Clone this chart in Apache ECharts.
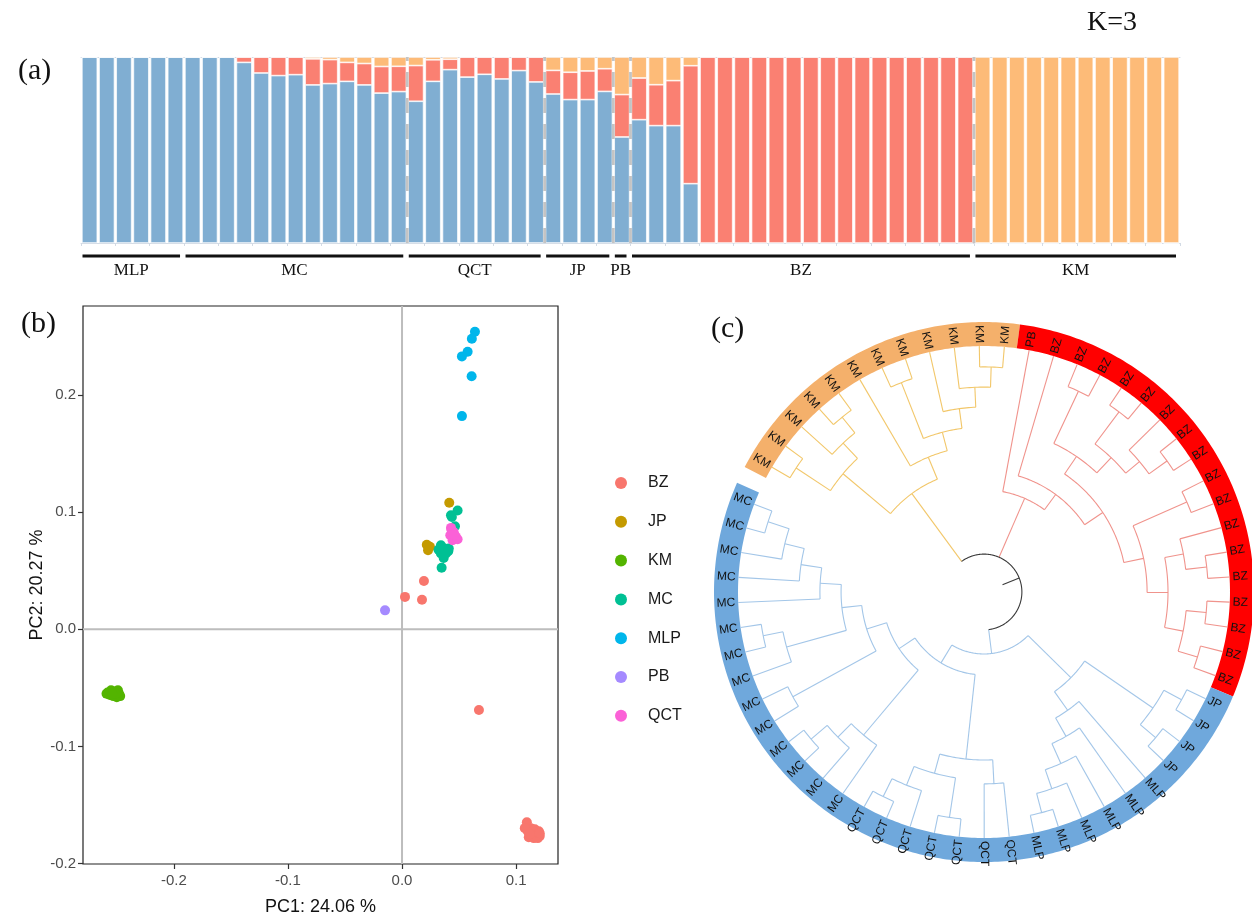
<!DOCTYPE html>
<html>
<head>
<meta charset="utf-8">
<script src="https://cdn.jsdelivr.net/npm/echarts@6.0.0/dist/echarts.min.js"></script>
<style>
html,body{margin:0;padding:0;background:#ffffff;}
#chart{width:1252px;height:921px;}
</style>
</head>
<body>
<div id="chart"></div>
<script>
// ================= DATA =================
// (a) admixture proportions, K=3
const groupNames = ['MLP','MC','QCT','JP','PB','BZ','KM'];
const groupSizes = [6,13,8,4,1,20,12];
const dashedBeforeGroups = ['QCT','JP','PB','BZ','KM'];
const qBlue = [1,1,1,1,1,1,
  1,1,1,0.971,0.914,0.900,0.905,0.850,0.857,0.869,0.850,0.806,0.814,
  0.762,0.869,0.932,0.892,0.907,0.882,0.927,0.866,
  0.801,0.771,0.771,0.815,
  0.570,
  0.663,0.631,0.631,0.319,0,0,0,0,0,0,0,0,0,0,0,0,0,0,0,0,
  0,0,0,0,0,0,0,0,0,0,0,0];
const qRed = [0,0,0,0,0,0,
  0,0,0,0.029,0.086,0.100,0.095,0.140,0.129,0.102,0.115,0.143,0.136,
  0.192,0.116,0.056,0.108,0.093,0.118,0.073,0.134,
  0.127,0.147,0.154,0.122,
  0.228,
  0.224,0.220,0.242,0.634,1,1,1,1,1,1,1,1,1,1,1,1,1,1,1,1,
  0,0,0,0,0,0,0,0,0,0,0,0];
const qOrange = [0,0,0,0,0,0,
  0,0,0,0,0,0,0,0.010,0.014,0.029,0.035,0.051,0.050,
  0.046,0.015,0.012,0,0,0,0,0,
  0.072,0.082,0.075,0.063,
  0.202,
  0.113,0.149,0.127,0.047,0,0,0,0,0,0,0,0,0,0,0,0,0,0,0,0,
  1,1,1,1,1,1,1,1,1,1,1,1];

// (b) PCA scores [PC1, PC2]
const pcaGroups = ['BZ','JP','KM','MC','MLP','PB','QCT'];
const pcaBZ = [[0.0026,0.0277],[0.0192,0.0413],[0.0175,0.0252],[0.0674,-0.0689],
  [0.1094,-0.1647],[0.1129,-0.1697],[0.1164,-0.1706],[0.1199,-0.1723],[0.1102,-0.1723],
  [0.1137,-0.1748],[0.1172,-0.1748],[0.1207,-0.1765],[0.1111,-0.1774],[0.1155,-0.1782],
  [0.1190,-0.1782],[0.1076,-0.1697],[0.1181,-0.1731],[0.1146,-0.1723],[0.1120,-0.1748],[0.1207,-0.1740]];
const pcaJP = [[0.0414,0.108],[0.0217,0.0722],[0.0245,0.0705],[0.0228,0.0675]];
const pcaKM = [[-0.258,-0.054],[-0.255,-0.052],[-0.252,-0.053],[-0.249,-0.052],[-0.248,-0.055],[-0.250,-0.058],
  [-0.253,-0.057],[-0.256,-0.056],[-0.259,-0.055],[-0.247,-0.057],[-0.251,-0.055],[-0.254,-0.055]];
const pcaMC = [[0.0429,0.0973],[0.0487,0.1015],[0.0464,0.088],[0.0341,0.0718],[0.037,0.069],[0.0405,0.0667],
  [0.0341,0.0647],[0.0365,0.061],[0.0347,0.0525],[0.0385,0.0647],[0.032,0.068],[0.041,0.069],[0.0437,0.096]];
const pcaMLP = [[0.0639,0.254],[0.0612,0.248],[0.0575,0.237],[0.0525,0.233],[0.061,0.216],[0.0525,0.182]];
const pcaPB = [[-0.0149,0.0162]];
const pcaQCT = [[0.0429,0.0866],[0.0452,0.0831],[0.0472,0.0789],[0.0443,0.076],[0.0423,0.0803],
  [0.0487,0.0769],[0.0435,0.0845],[0.0458,0.0809]];
const pcaTicks = [-0.2,-0.1,0,0.1,0.2];
const pc1Title = 'PC1: 24.06 %';
const pc2Title = 'PC2: 20.27 %';

// (c) dendrogram: internal node = [depth, children...], leaf = group label; tips at depth 1
const rootDepth = 0.154;
const rootStubDepth = 0.081;
const treeKM = [0.496,
  [0.748, [0.915,'KM','KM'], [0.833,'KM',[0.915,'KM','KM']]],
  [0.593, 'KM', [0.671, [0.915,'KM','KM'], [0.752,'KM',[0.833,'KM',[0.915,'KM','KM']]]]]
];
const treeBZ = [0.415, 'PB',
  [0.492, 'BZ',
    [0.581,
      [0.667, [0.902,'BZ','BZ'], [0.752, [0.915,'BZ','BZ'], [0.825,'BZ',[0.915,'BZ','BZ']]]],
      [0.663, [0.902,'BZ','BZ'], [0.748, [0.825,'BZ',[0.911,'BZ','BZ']], [0.825,[0.907,'BZ','BZ'],[0.907,'BZ','BZ']]]]
    ]
  ]
];
const treeBlue = [0.252,
  [0.496,
    [0.833, [0.915,'JP','JP'], [0.915,'JP','JP']],
    [0.589, 'MLP', [0.675, 'MLP', [0.764, 'MLP', [0.846, 'MLP', [0.927,'MLP','MLP']]]]]
  ],
  [0.337,
    [0.683, [0.780,'QCT','QCT'], [0.764, [0.927,'QCT','QCT'], [0.846,'QCT',[0.927,'QCT','QCT']]]],
    [0.415,
      [0.760, 'MC', [0.837, 'MC', [0.923,'MC','MC']]],
      [0.500, [0.886,'MC','MC'],
        [0.581, [0.833,'MC',[0.915,'MC','MC']], [0.667,'MC',[0.752,'MC',[0.833,'MC',[0.923,'MC','MC']]]]]
      ]
    ]
  ]
];

// ================= STYLE =================
const SERIF = '"Liberation Serif", "Times New Roman", serif';
const SANS = '"Liberation Sans", Arial, sans-serif';
const colBlue = '#80AED2', colRed = '#FA8072', colOrange = '#FDBB78';
const pcaColors = {BZ:'#F8766D', JP:'#C49A00', KM:'#53B400', MC:'#00C094', MLP:'#00B6EB', PB:'#A58AFF', QCT:'#FB61D7'};
const branchColors = {KM:'#F2C76A', BZ:'#F0938C', Blue:'#A3C6E8', root:'#3a3a3a'};
const ringColors = {KM:'#F4B06B', PB:'#FF0000', BZ:'#FF0000', JP:'#6FA8DC', MLP:'#6FA8DC', QCT:'#6FA8DC', MC:'#6FA8DC'};
const ringOuterDepth = 1.0976;
const labelDepth = 1.012;

// ================= DERIVED =================
const nInd = groupSizes.reduce((a,b)=>a+b,0);
const cum = []; (function(){let s=0; groupSizes.forEach(g=>{cum.push(s); s+=g;});})();
const groupSpans = groupNames.map((g,i)=>[cum[i], cum[i]+groupSizes[i], i]);
const dashPositions = dashedBeforeGroups.map(g => [cum[groupNames.indexOf(g)]]);
const indNames = Array.from({length:nInd}, (_,i)=>String(i+1));

const nodes = []; let leafCounter = 0;
function walk(t, parentDepth, color) {
  if (typeof t === 'string') {
    const pos = leafCounter++;
    nodes.push({leaf:true, name:t, pos, depth:1, parentDepth, color});
    return pos;
  }
  const d = t[0];
  const ps = t.slice(1).map(c => walk(c, d, color));
  const pos = (ps[0] + ps[ps.length-1]) / 2;
  nodes.push({leaf:false, pos, depth:d, parentDepth, from:ps[0], to:ps[ps.length-1], color});
  return pos;
}
const rootKids = [walk(treeKM, rootDepth, branchColors.KM), walk(treeBZ, rootDepth, branchColors.BZ), walk(treeBlue, rootDepth, branchColors.Blue)];
nodes.push({leaf:false, pos:(rootKids[0]+rootKids[2])/2, depth:rootDepth, parentDepth:rootStubDepth,
  from:rootKids[0], to:rootKids[rootKids.length-1], color:branchColors.root});
const leaves = nodes.filter(n=>n.leaf).sort((a,b)=>a.pos-b.pos);
const nLeaves = leaves.length;
const ringRuns = [];
leaves.forEach(l => {
  const c = ringColors[l.name];
  const last = ringRuns[ringRuns.length-1];
  if (last && last.color === c) last.to = l.pos; else ringRuns.push({from:l.pos, to:l.pos, color:c});
});

function arcPts(api, depth, a0, a1) {
  const n = Math.max(2, Math.ceil(Math.abs(a1-a0)*8));
  const pts = [];
  for (let i=0;i<=n;i++) pts.push(api.coord([depth, a0 + (a1-a0)*i/n]));
  return pts;
}

const chart = echarts.init(document.getElementById('chart'), null, {renderer:'canvas', width:1252, height:921});

const scatterSeries = pcaGroups.map(g => ({
  type:'scatter', name:g, xAxisIndex:2, yAxisIndex:1,
  data: ({BZ:pcaBZ, JP:pcaJP, KM:pcaKM, MC:pcaMC, MLP:pcaMLP, PB:pcaPB, QCT:pcaQCT})[g],
  symbolSize:10, itemStyle:{color:pcaColors[g], opacity:1}, z:3
}));

const option = {
  animation:false,
  backgroundColor:'#ffffff',
  textStyle:{fontFamily:SANS},
  grid:[
    {left:81, top:57, width:1099, height:186},
    {left:83, top:306, width:475, height:562, show:true, borderColor:'#222222', borderWidth:1.2, backgroundColor:'transparent'}
  ],
  xAxis:[
    {type:'category', gridIndex:0, data:indNames, boundaryGap:true,
      axisLine:{lineStyle:{color:'#d3dbe5', width:1}}, axisTick:{show:true, length:3, lineStyle:{color:'#d3dbe5'}},
      axisLabel:{show:false}, splitLine:{show:false}},
    {type:'value', gridIndex:0, min:0, max:nInd, position:'top',
      axisLine:{show:true, lineStyle:{color:'#d3dbe5', width:1}}, axisTick:{show:false}, axisLabel:{show:false}, splitLine:{show:false}},
    {type:'value', gridIndex:1, min:-0.2796, max:0.1367,
      axisLine:{show:false, onZero:false}, splitLine:{show:false},
      axisTick:{show:true, length:5, lineStyle:{color:'#333333', width:1.2}, customValues:pcaTicks.filter(v=>v<=0.1)},
      axisLabel:{customValues:pcaTicks.filter(v=>v<=0.1), formatter:v=>v.toFixed(1), color:'#4d4d4d', fontSize:15, fontFamily:SANS, margin:9},
      name:pc1Title, nameLocation:'middle', nameGap:34, nameTextStyle:{color:'#111111', fontSize:18, fontFamily:SANS}}
  ],
  yAxis:[
    {type:'value', gridIndex:0, min:0, max:1, show:false},
    {type:'value', gridIndex:1, min:-0.2003, max:0.276,
      axisLine:{show:false, onZero:false}, splitLine:{show:false},
      axisTick:{show:true, length:5, lineStyle:{color:'#333333', width:1.2}, customValues:pcaTicks},
      axisLabel:{customValues:pcaTicks, formatter:v=>v.toFixed(1), color:'#4d4d4d', fontSize:15, fontFamily:SANS, margin:7},
      name:pc2Title, nameLocation:'middle', nameGap:34, nameRotate:90, nameTextStyle:{color:'#111111', fontSize:18, fontFamily:SANS}}
  ],
  polar:{center:[984,592], radius:[0,270]},
  angleAxis:{type:'value', min:-0.82, max:nLeaves-1+0.82, startAngle:154.29, clockwise:true, show:false},
  radiusAxis:{type:'value', min:0, max:ringOuterDepth, show:false},
  legend:{data:pcaGroups, orient:'vertical', left:610, top:470, itemWidth:12, itemHeight:12, itemGap:22.8, icon:'circle',
    textStyle:{fontSize:16, fontFamily:SANS, color:'#1a1a1a', lineHeight:16, padding:[0,0,0,16]}},
  graphic:[
    {type:'text', left:18, top:56, style:{text:'(a)', font:'30px '+SERIF, fill:'#111'}},
    {type:'text', left:1087, top:9, style:{text:'K=3', font:'28px '+SERIF, fill:'#111'}},
    {type:'text', left:21, top:309, style:{text:'(b)', font:'30px '+SERIF, fill:'#111'}},
    {type:'text', left:711, top:314, style:{text:'(c)', font:'30px '+SERIF, fill:'#111'}}
  ],
  series:[
    {type:'bar', name:'q1', xAxisIndex:0, yAxisIndex:0, stack:'q', data:qBlue, barCategoryGap:'10%',
      itemStyle:{color:colBlue, borderColor:'#ffffff', borderWidth:0.7}},
    {type:'bar', name:'q2', xAxisIndex:0, yAxisIndex:0, stack:'q', data:qRed,
      itemStyle:{color:colRed, borderColor:'#ffffff', borderWidth:0.7}},
    {type:'bar', name:'q3', xAxisIndex:0, yAxisIndex:0, stack:'q', data:qOrange,
      itemStyle:{color:colOrange, borderColor:'#ffffff', borderWidth:0.7}},
    {type:'custom', name:'dash', xAxisIndex:1, yAxisIndex:0, data:dashPositions, encode:{x:0}, z:5, clip:false,
      renderItem:(params, api) => {
        const p0 = api.coord([api.value(0), 0]), p1 = api.coord([api.value(0), 1]);
        return {type:'line', shape:{x1:p0[0], y1:p0[1], x2:p1[0], y2:p1[1]},
          style:{stroke:'#c4c4c4', lineWidth:2.8, lineDash:[15,11]}};
      }},
    {type:'custom', name:'groups', xAxisIndex:1, yAxisIndex:0, data:groupSpans, encode:{x:[0,1]}, clip:false,
      renderItem:(params, api) => {
        const p0 = api.coord([api.value(0), 0]), p1 = api.coord([api.value(1), 0]);
        const y = p0[1] + 13;
        const x0 = p0[0] + 1.5, x1 = p1[0] - 4;
        return {type:'group', children:[
          {type:'line', shape:{x1:x0, y1:y, x2:x1, y2:y}, style:{stroke:'#111111', lineWidth:3}},
          {type:'text', x:(x0+x1)/2, y:y+15, style:{text:groupNames[api.value(2)], font:'17px '+SERIF, fill:'#111',
            align:'center', verticalAlign:'middle'}}
        ]};
      }},
    {type:'custom', name:'zero', xAxisIndex:2, yAxisIndex:1, data:[[0,0]], z:1, silent:true,
      renderItem:(params, api) => {
        const p = api.coord([0,0]); const cs = params.coordSys;
        return {type:'group', children:[
          {type:'line', shape:{x1:p[0], y1:cs.y, x2:p[0], y2:cs.y+cs.height}, style:{stroke:'#bdbdbd', lineWidth:2}},
          {type:'line', shape:{x1:cs.x, y1:p[1], x2:cs.x+cs.width, y2:p[1]}, style:{stroke:'#bdbdbd', lineWidth:2}}
        ]};
      }},
    ...scatterSeries,
    {type:'custom', name:'ring', coordinateSystem:'polar', data:ringRuns.map((r,k)=>[1, r.from, k]), z:2, silent:true,
      renderItem:(params, api) => {
        const r = ringRuns[api.value(2)];
        const outer = arcPts(api, ringOuterDepth, r.from-0.5, r.to+0.5);
        const inner = arcPts(api, 1, r.to+0.5, r.from-0.5);
        return {type:'polygon', shape:{points:outer.concat(inner)}, style:{fill:r.color, stroke:null}};
      }},
    {type:'custom', name:'branches', coordinateSystem:'polar', data:nodes.map((n,k)=>[n.depth, n.pos, k]), z:3, silent:true,
      renderItem:(params, api) => {
        const nd = nodes[api.value(2)];
        const a = api.coord([nd.parentDepth, nd.pos]), b = api.coord([nd.depth, nd.pos]);
        const children = [{type:'line', shape:{x1:a[0], y1:a[1], x2:b[0], y2:b[1]}, style:{stroke:nd.color, lineWidth:1.1}}];
        if (!nd.leaf) children.push({type:'polyline', shape:{points:arcPts(api, nd.depth, nd.from, nd.to)},
          style:{stroke:nd.color, lineWidth:1.1, fill:null}});
        return {type:'group', children};
      }},
    {type:'custom', name:'tiplabels', coordinateSystem:'polar', data:leaves.map((l,k)=>[labelDepth, l.pos, k]), z:4, silent:true,
      renderItem:(params, api) => {
        const l = leaves[api.value(2)];
        const p = api.coord([labelDepth, l.pos]), c = api.coord([0, l.pos]);
        const th = Math.atan2(-(p[1]-c[1]), p[0]-c[0]);
        const right = Math.cos(th) >= 0;
        return {type:'text', x:p[0], y:p[1], rotation: right ? th : th - Math.PI,
          style:{text:l.name, fill:'#111111', fontSize:12, fontFamily:SANS, align: right ? 'left' : 'right', verticalAlign:'middle'}};
      }}
  ]
};
chart.setOption(option);
</script>
</body>
</html>
